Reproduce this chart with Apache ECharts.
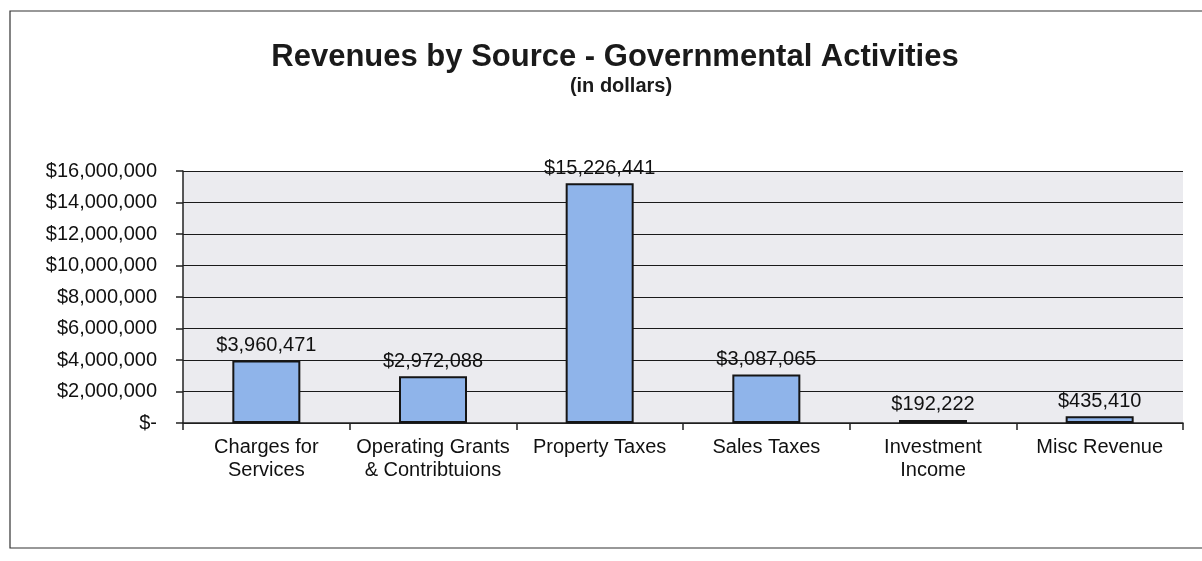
<!DOCTYPE html>
<html>
<head>
<meta charset="utf-8">
<script src="https://cdn.jsdelivr.net/npm/echarts@6/dist/echarts.min.js"></script>
<style>
html,body{margin:0;padding:0;background:#fff;}
#chart{width:1202px;height:561px;}
</style>
</head>
<body>
<div id="chart"></div>
<script>
const titleText = "Revenues by Source - Governmental Activities";
const subtitleText = "(in dollars)";
const categories = ["Charges for\nServices", "Operating Grants\n& Contribtuions", "Property Taxes", "Sales Taxes", "Investment\nIncome", "Misc Revenue"];
const revenues = [3960471, 2972088, 15226441, 3087065, 192222, 435410];
const yTicks = [0, 2000000, 4000000, 6000000, 8000000, 10000000, 12000000, 14000000, 16000000];

const FONT = 'Arial, "Liberation Sans", sans-serif';
function money(v){
  if (v === 0) return '$-';
  return '$' + Math.round(v).toLocaleString('en-US');
}

const chart = echarts.init(document.getElementById('chart'), null, {renderer:'canvas'});
chart.setOption({
  backgroundColor: '#ffffff',
  animation: false,
  graphic: [
    { type:'rect', shape:{x:10, y:11, width:1200, height:537}, style:{fill:'none', stroke:'#333', lineWidth:1.2}, z:-10 },
    { type:'text', x:615, y:57, style:{ text: titleText, font:'bold 31px ' + FONT, fill:'#1a1a1a', textAlign:'center', textVerticalAlign:'middle' } },
    { type:'text', x:621, y:86, style:{ text: subtitleText, font:'bold 20px ' + FONT, fill:'#1a1a1a', textAlign:'center', textVerticalAlign:'middle' } }
  ],
  grid: { left:183, right:19, top:171, bottom:138, show:true, backgroundColor:'#ebebef', borderWidth:0 },
  xAxis: {
    type:'category',
    data: categories,
    boundaryGap: true,
    axisLine: { show:true, lineStyle:{ color:'#222', width:1.5 } },
    axisTick: { show:true, length:7, alignWithLabel:false, lineStyle:{ color:'#222', width:1.5 } },
    axisLabel: { color:'#111', fontFamily: FONT, fontSize:20, lineHeight:23, margin:13, interval:0 }
  },
  yAxis: {
    type:'value',
    min: yTicks[0],
    max: yTicks[yTicks.length-1],
    interval: yTicks[1] - yTicks[0],
    axisLine: { show:true, lineStyle:{ color:'#222', width:1.5 } },
    axisTick: { show:true, length:7, lineStyle:{ color:'#222', width:1.5 } },
    splitLine: { show:true, lineStyle:{ color:'#1a1a1a', width:1.2 } },
    axisLabel: { color:'#111', fontFamily: FONT, fontSize:20, margin:26, formatter: money }
  },
  series: [{
    type:'bar',
    data: revenues,
    barWidth: 68,
    itemStyle: { color:'#8fb4ea', borderColor:'#151515', borderWidth:2 },
    label: { show:true, position:'top', distance:5, color:'#111', fontFamily: FONT, fontSize:20, formatter: p => money(p.value) }
  }]
});
</script>
</body>
</html>
